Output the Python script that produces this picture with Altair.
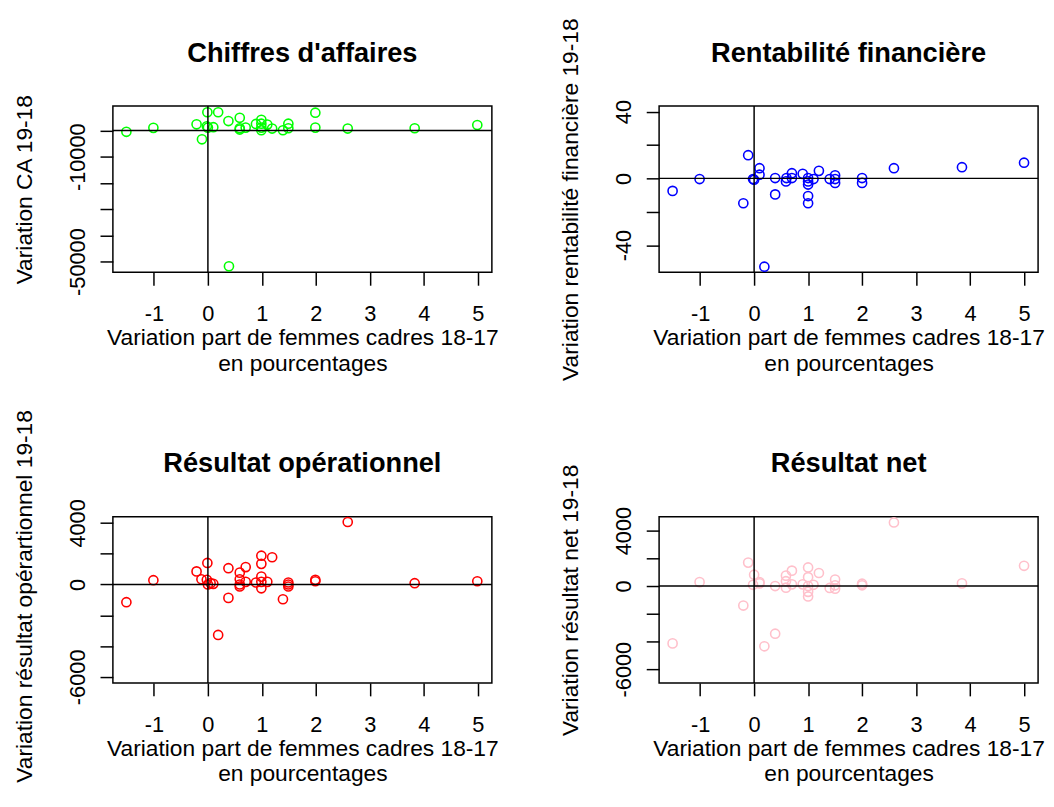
import json
import altair as alt
import pandas as pd

# ---------------- data ----------------
X_TICKS = [-1, 0, 1, 2, 3, 4, 5]
X_DOMAIN = [-1.76, 5.26]
X_TITLE = ["Variation part de femmes cadres 18-17", "en pourcentages"]

# Chiffres d'affaires (green)
ca_x = [-1.51, -1.01, -0.21, -0.11, -0.01, -0.02, 0.0, 0.1, 0.19, 0.38, 0.59, 0.59,
        0.59, 0.7, 0.89, 0.99, 0.99, 0.99, 0.99, 1.1, 1.19, 1.39, 1.49, 1.49, 1.99,
        1.99, 2.59, 3.83, 4.99, 0.39]
ca_y = [-500, 1000, 2350, -3350, 6950, 1600, 1100, 1250, 6950, 3600, 4850, 850,
        350, 1100, 2500, 4100, 2600, 1100, 100, 2250, 750, 100, 2600, 850, 6800,
        1100, 750, 850, 2100, -51800]
ca_ticks = [0, -10000, -20000, -30000, -40000, -50000]
ca_labels = [-10000, -50000]
ca_domain = [-54100, 9300]

# Rentabilite financiere (blue)
rf_x = [-1.51, -1.01, -0.11, -0.2, -0.02, 0.0, 0.1, 0.1, 0.19, 0.39, 0.39, 0.59,
        0.6, 0.7, 0.7, 0.9, 1.0, 1.0, 1.0, 1.0, 1.0, 1.1, 1.2, 1.4, 1.5, 1.5, 1.5,
        2.0, 2.0, 2.59, 3.85, 5.0]
rf_y = [-7.5, -0.4, 13.9, -14.9, -0.4, -0.8, 6.1, 2.2, -52.9, 0.2, -9.6, -1.8,
        0.2, 3.1, 0.2, 2.7, 0.2, -1.8, -3.7, -10.6, -14.9, -0.4, 4.5, -0.4, 1.8,
        -0.4, -2.7, 0.2, -2.7, 6.1, 6.7, 9.4]
rf_ticks = [40, 20, 0, -20, -40]
rf_labels = [40, 0, -40]
rf_domain = [-56.3, 43.3]

# Resultat operationnel (red)
ro_x = [-1.51, -1.01, -0.21, -0.12, -0.01, -0.02, 0.0, 0.05, 0.1, 0.19, 0.38, 0.38,
        0.59, 0.59, 0.59, 0.59, 0.7, 0.7, 0.89, 0.99, 0.99, 0.99, 0.99, 0.99, 1.1,
        1.19, 1.39, 1.49, 1.49, 1.49, 1.99, 1.99, 2.59, 3.83, 4.99]
ro_y = [-1150, 280, 850, 340, 1400, 300, 0, 85, 40, -3280, 1060, -870, 770, 340, 0,
        -130, 1130, 170, 130, 1870, 1340, 510, 170, -250, 170, 1770, -960, 130, 0,
        -130, 300, 210, 4060, 85, 210]
ro_ticks = [4000, 2000, 0, -2000, -4000, -6000]
ro_labels = [4000, 0, -6000]
ro_domain = [-6400, 4400]

# Resultat net (pink)
rn_x = [-1.51, -1.01, -0.11, -0.2, 0.0, -0.02, 0.1, 0.1, 0.19, 0.39, 0.39, 0.59,
        0.59, 0.59, 0.7, 0.7, 0.9, 1.0, 1.0, 1.0, 1.0, 1.0, 1.1, 1.2, 1.4, 1.5, 1.5,
        1.5, 2.0, 2.0, 2.59, 3.85, 5.0]
rn_y = [-4140, 280, 1690, -1410, 820, 90, 280, 190, -4350, 0, -3440, 750, 350, -120,
        1110, 120, 120, 1340, 640, 0, -420, -750, 90, 940, -140, 470, 50, -190, 170,
        50, 4590, 190, 1460]
rn_ticks = [4000, 2000, 0, -2000, -4000, -6000]
rn_labels = [4000, 0, -6000]
rn_domain = [-7000, 5000]

FONT = "Liberation Sans"
W, H = 383, 168
COL_GAP, ROW_GAP = 169, 247
# plot-area top-left corner of the first panel, in page pixels (page margin is 8)
LEFT0, TOP0 = 113.5, 102


def panel(title, ytitle, xs, ys, color, ydomain, yticks, ylabels, ytitle_dy=0,
          anchor=False):
    x_enc = alt.X(
        "x:Q",
        scale=alt.Scale(domain=X_DOMAIN, nice=False, zero=False),
        axis=alt.Axis(
            values=X_TICKS, title=X_TITLE, labelExpr="toString(datum.value)",
            labelAngle=0, labelPadding=19, titleX=W / 2, titleY=55,
            titleBaseline="top", titleAlign="center", titleLineHeight=26,
        ),
    )
    y_enc = alt.Y(
        "y:Q",
        scale=alt.Scale(domain=ydomain, nice=False, zero=False),
        axis=alt.Axis(
            values=yticks, title=ytitle,
            labelExpr="indexof(%s, datum.value) >= 0 ? toString(datum.value) : ''"
            % json.dumps(ylabels),
            labelAngle=270, labelAlign="center", labelBaseline="alphabetic",
            labelPadding=16, titleX=-82, titleY=H / 2 + ytitle_dy, titleAngle=270,
            titleAlign="center", titleBaseline="alphabetic",
        ),
    )
    pts = alt.Chart(pd.DataFrame({"x": xs, "y": ys})).mark_point(
        shape="circle", filled=False, size=85, strokeWidth=1.6, color=color, opacity=1
    ).encode(x=x_enc, y=y_enc)
    vline = alt.Chart(pd.DataFrame({"x": [0]})).mark_rule(
        color="black", strokeWidth=1.5
    ).encode(x=x_enc)
    hline = alt.Chart(pd.DataFrame({"y": [0]})).mark_rule(
        color="black", strokeWidth=1.5
    ).encode(y=y_enc)
    ttl = alt.Chart(pd.DataFrame({"t": [title]})).mark_text(
        font=FONT, fontSize=27.5, fontWeight="bold", color="black",
        align="center", baseline="alphabetic",
    ).encode(text="t:N", x=alt.value(W / 2), y=alt.value(-45))
    layers = [pts, vline, hline, ttl]
    if anchor:
        # invisible marker fixing the top-left corner of the whole figure
        ax, ay = -(LEFT0 - 8) + 0.5, -(TOP0 - 8) + 0.5
        layers.append(
            alt.Chart(pd.DataFrame({"a": [0]})).mark_rule(
                opacity=0, strokeWidth=1, color="white"
            ).encode(x=alt.value(ax), x2=alt.value(ax + 1),
                     y=alt.value(ay), y2=alt.value(ay + 1))
        )
    return alt.layer(*layers).properties(width=W, height=H)


p1 = panel("Chiffres d'affaires", "Variation CA 19-18", ca_x, ca_y, "#00ff00",
           ca_domain, ca_ticks, ca_labels, anchor=True)
p2 = panel("Rentabilité financière", "Variation rentabilité financière 19-18",
           rf_x, rf_y, "#0000ff", rf_domain, rf_ticks, rf_labels, ytitle_dy=10)
p3 = panel("Résultat opérationnel", "Variation résultat opérartionnel 19-18",
           ro_x, ro_y, "#ff0000", ro_domain, ro_ticks, ro_labels, ytitle_dy=-4)
p4 = panel("Résultat net", "Variation résultat net 19-18", rn_x, rn_y, "#ffc0cb",
           rn_domain, rn_ticks, rn_labels)

chart = alt.concat(
    p1, p2, p3, p4, columns=2, spacing={"row": ROW_GAP, "column": COL_GAP},
    bounds="flush",
).configure(
    padding={"left": 0, "top": 0, "right": 0, "bottom": 0}, font=FONT
).configure_view(
    stroke="black", strokeWidth=1.5
).configure_axis(
    domain=False, grid=False, tickColor="black", tickWidth=1.5, tickSize=13,
    labelFont=FONT, labelFontSize=22, labelColor="black",
    titleFont=FONT, titleFontSize=23, titleFontWeight="normal", titleColor="black",
)

chart.save("out.html", embed_options={"renderer": "svg", "actions": False})
